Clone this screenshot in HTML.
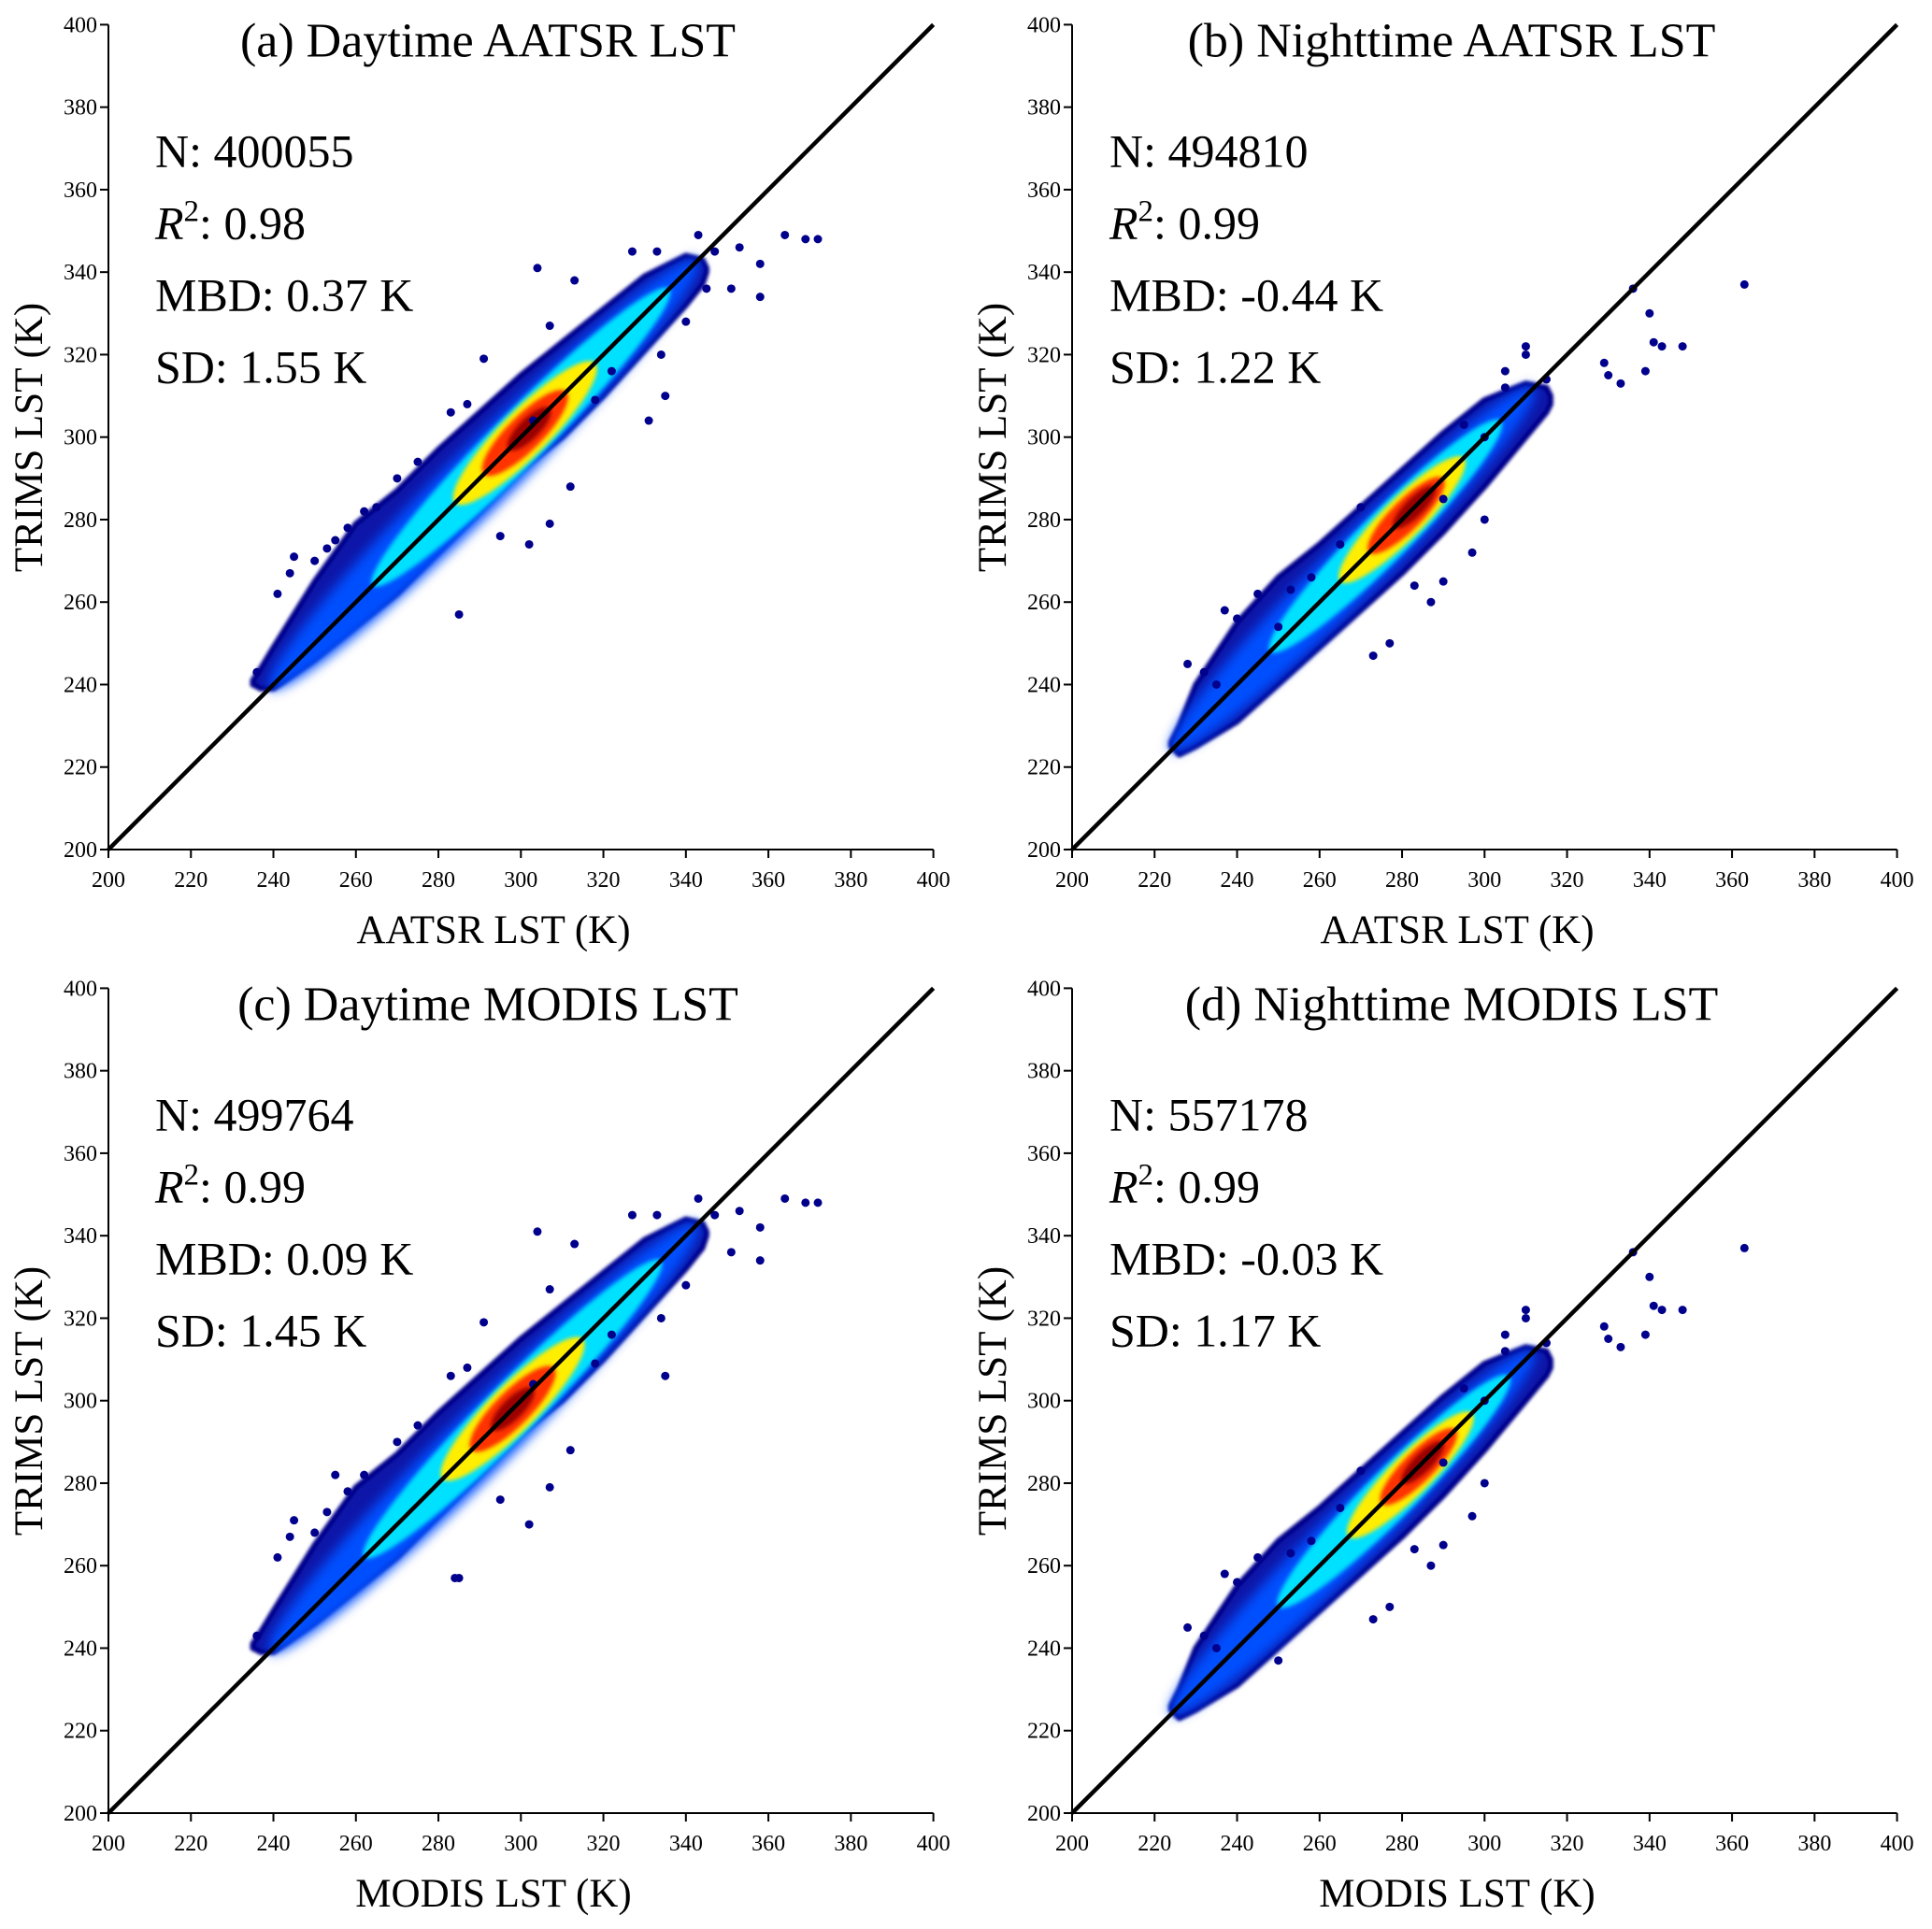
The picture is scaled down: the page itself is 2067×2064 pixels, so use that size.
<!DOCTYPE html>
<html><head><meta charset="utf-8"><style>
html,body{margin:0;padding:0;background:#fff;}
svg{display:block;font-family:"Liberation Serif",serif;}
</style></head><body>
<svg id="fig" width="2067" height="2064" viewBox="0 0 2067 2064" xmlns="http://www.w3.org/2000/svg">
<defs><filter id="blur" x="-20%" y="-20%" width="140%" height="140%"><feGaussianBlur stdDeviation="6"/></filter>
<filter id="blur2" x="-20%" y="-20%" width="140%" height="140%"><feGaussianBlur stdDeviation="2"/></filter>
<filter id="blur3" x="-20%" y="-20%" width="140%" height="140%"><feGaussianBlur stdDeviation="1.5"/></filter></defs>
</svg>
<script>
const ticks=[200,220,240,260,280,300,320,340,360,380,400];
const panelTitles=["(a) Daytime AATSR LST","(b) Nighttime AATSR LST","(c) Daytime MODIS LST","(d) Nighttime MODIS LST"];
const xLabels=["AATSR LST (K)","AATSR LST (K)","MODIS LST (K)","MODIS LST (K)"];
const nValues=["400055","494810","499764","557178"];
const r2Values=["0.98","0.99","0.99","0.99"];
const mbdValues=["0.37","-0.44","0.09","-0.03"];
const sdValues=["1.55","1.22","1.45","1.17"];
// envelope of scatter cloud: x, upper y, lower y
const envXA=[235,237,240,250,260,265,270,280,290,300,310,320,330,340,344,345];
const envUA=[241,244,249,265,279,283,287,297,306,315,323,331,339,344,343,341];
const envLA=[240,239,239,246,254,258,262,272,282,292,300,310,321,332,337,340];
const envXB=[224,226,230,240,250,260,270,280,290,300,310,315,316];
const envUB=[226,230,240,255,266,274,283,292,301,309,313,312,310];
const envLB=[225,223,225,231,240,249,258,267,277,288,300,306,308];
// density layers: centre, half-length (K), half-width (K)
const layersA=[[291,52,5.5],[300,36,4.5],[301,17,4],[301,10,3],[302,5,1.8]];
const layersB=[[268,44,5],[276,28,4.2],[280,15,3.5],[281,9,2.6],[283,5,1.6]];
const layersC=[[291,52,5.5],[298,36,4.5],[298,17,4],[298,10,3],[298,5,1.8]];
const layersD=[[268,44,5],[278,28,4.2],[282,15,3.5],[284,9,2.6],[285,5,1.6]];
const layerColors=["#0050ff","#00e0ff","#ffee00","#ff3000","#9a0000"];
const outXA=[236,241,245,244,285,295,302,307,312,303,307,304,313,327,333,343,347,353,358,358,364,369,372,351,334,335,331,255,250,265,253,258,262,270,275,283,287,291,318,322,340,345];
const outYA=[243,262,271,267,257,276,274,279,288,304,327,341,338,345,345,349,345,346,342,334,349,348,348,336,320,310,304,275,270,283,273,278,282,290,294,306,308,319,309,316,328,336];
const outXB=[228,232,240,237,253,273,277,290,297,300,290,305,310,329,330,333,336,340,341,343,348,339,363,310,295,235,245,250,258,265,270,283,287,300,305,315];
const outYB=[245,243,256,258,263,247,250,265,272,280,285,312,320,318,315,313,336,330,323,322,322,316,337,322,303,240,262,254,266,274,283,264,260,300,316,314];
const outXC=[236,241,245,244,285,295,302,307,312,303,307,304,313,327,333,343,347,353,358,358,364,369,372,351,334,335,284,250,255,253,258,262,270,275,283,287,291,318,322,340];
const outYC=[243,262,271,267,257,276,270,279,288,304,327,341,338,345,345,349,345,346,342,334,349,348,348,336,320,306,257,268,282,273,278,282,290,294,306,308,319,309,316,328];
const outXD=[228,232,240,237,253,273,277,290,297,300,290,305,310,329,330,333,336,340,341,343,348,339,363,310,295,235,245,250,258,265,270,283,287,300,305,315];
const outYD=[245,243,256,258,263,247,250,265,272,280,285,312,320,318,315,313,336,330,323,322,322,316,337,322,303,240,262,237,266,274,283,264,260,300,316,314];

const NS="http://www.w3.org/2000/svg";
const svg=document.getElementById('fig');
function mk(tag,attrs,parent){const e=document.createElementNS(NS,tag);for(const k in attrs)e.setAttribute(k,attrs[k]);(parent||svg).appendChild(e);return e;}
const origins=[[116,909],[1147,909],[116,1940],[1147,1940]];
const S=4.413;
const envs=[[envXA,envUA,envLA],[envXB,envUB,envLB],[envXA,envUA,envLA],[envXB,envUB,envLB]];
const layers=[layersA,layersB,layersC,layersD];
const outs=[[outXA,outYA],[outXB,outYB],[outXC,outYC],[outXD,outYD]];
for(let p=0;p<4;p++){
  const [ox,oy]=origins[p];
  const X=v=>ox+(v-200)*S, Y=v=>oy-(v-200)*S;
  const g=mk('g',{});
  
  
  const [ex,eu,el]=envs[p];
  let pts=[];
  for(let i=0;i<ex.length;i++)pts.push(X(ex[i])+','+Y(eu[i]));
  for(let i=ex.length-1;i>=0;i--)pts.push(X(ex[i])+','+Y(el[i]));
  const env=mk('polygon',{points:pts.join(' '),fill:'#0a12a8',stroke:'#00008a','stroke-width':6,'stroke-linejoin':'round',filter:'url(#blur3)'},g);
  
  
  layers[p].forEach((L,i)=>{
    const cx=X(L[0]),cy=Y(L[0]);
    const e=mk('ellipse',{cx:cx,cy:cy,rx:L[1]*Math.SQRT2*S,ry:L[2]*Math.SQRT2*S,fill:layerColors[i],transform:`rotate(-45 ${cx} ${cy})`,filter:i==0?'url(#blur)':'url(#blur2)'},g);
    
    
  });
  const [qx,qy]=outs[p];
  for(let i=0;i<qx.length;i++){
    const c=mk('circle',{cx:X(qx[i]),cy:Y(qy[i]),r:4.5,fill:'#00008c'},g);
    
    
  }
  const ln=mk('line',{x1:X(200),y1:Y(200),x2:X(400),y2:Y(400),stroke:'#000','stroke-width':4.5},g);
  
  
  const ax=mk('path',{d:`M${X(200)},${Y(400)}V${Y(200)}H${X(400)}`,fill:'none',stroke:'#000','stroke-width':2},g);
  
  
  ticks.forEach(t=>{
    mk('line',{x1:X(t),y1:oy,x2:X(t),y2:oy+9,stroke:'#000','stroke-width':2},g);
    mk('line',{x1:ox,y1:Y(t),x2:ox-9,y2:Y(t),stroke:'#000','stroke-width':2},g);
    const tx=mk('text',{x:X(t),y:oy+40,'font-size':24,'text-anchor':'middle'},g);
    tx.textContent=t;
    
    
    const ty=mk('text',{x:ox-12,y:Y(t)+8,'font-size':24,'text-anchor':'end'},g);
    ty.textContent=t;
    
    
  });
  const title=mk('text',{x:ox+406,y:Y(400)+34,'font-size':52,'text-anchor':'middle'},g);
  title.textContent=panelTitles[p];
  
  
  const xl=mk('text',{x:ox+412,y:oy+100,'font-size':43,'text-anchor':'middle'},g);
  xl.textContent=xLabels[p];
  
  
  const yl=mk('text',{x:0,y:0,'font-size':43,'text-anchor':'middle',transform:`translate(${ox-71},${oy-441}) rotate(-90)`},g);
  yl.textContent="TRIMS LST (K)";
  
  
  const sx=ox+50-(p%2)*10;
  const lines=[["N: "+nValues[p]],null,["MBD: "+mbdValues[p]+" K"],["SD: "+sdValues[p]+" K"]];
  const ys=[Y(400)+152,Y(400)+229,Y(400)+306,Y(400)+383];
  for(let i=0;i<4;i++){
    const t=mk('text',{x:sx,y:ys[i],'font-size':50},g);
    if(i==1){
      t.innerHTML='<tspan font-style="italic">R</tspan><tspan dy="-19" font-size="33">2</tspan><tspan dy="19">: '+r2Values[p]+'</tspan>';
      
    } else {
      t.textContent=lines[i][0];
      
    }
    
  }
}
</script>
</body></html>
